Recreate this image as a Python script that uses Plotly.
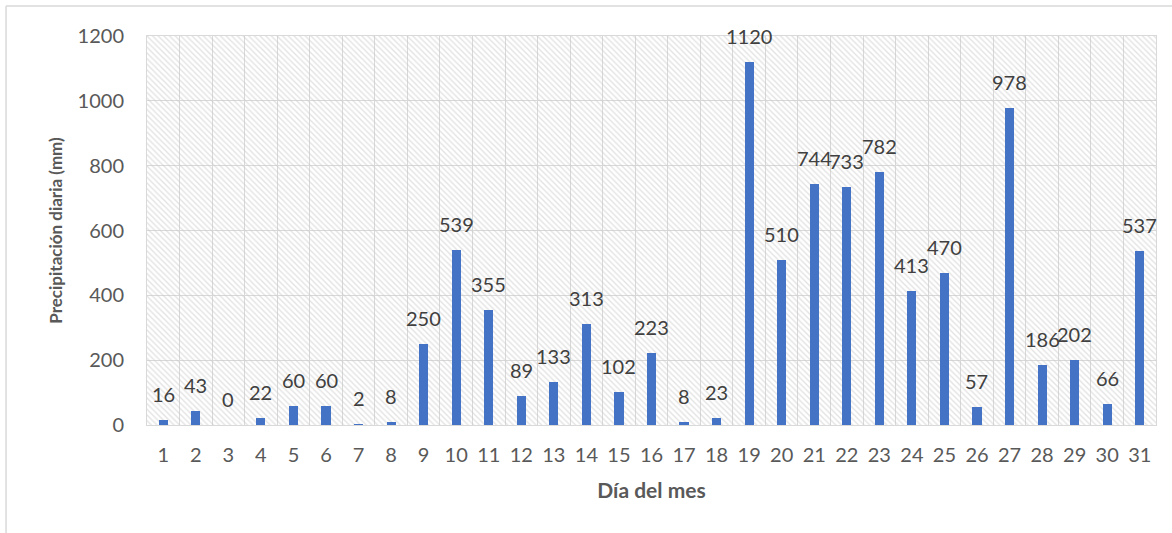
import plotly.graph_objects as go

days = [str(d) for d in range(1, 32)]
precip = [16, 43, 0, 22, 60, 60, 2, 8, 250, 539, 355, 89, 133, 313, 102, 223,
          8, 23, 1120, 510, 744, 733, 782, 413, 470, 57, 978, 186, 202, 66, 537]
y_max = 1200

FONT = "Lato"
TXT = "#595959"
GRID = "#d9d9d9"

fig = go.Figure()

# hatched plot-area background (single bar spanning all categories)
fig.add_trace(go.Bar(
    x=[days[15]], y=[y_max], width=[len(days)],
    marker=dict(color="rgba(0,0,0,0)", line=dict(width=0),
                pattern=dict(shape="\\", fgcolor="#c8c8c8", bgcolor="rgba(0,0,0,0)",
                             size=4, solidity=0.35)),
    hoverinfo="skip", showlegend=False,
))

fig.add_trace(go.Bar(
    x=days, y=precip, width=[0.28] * len(days),
    marker=dict(color="#4472c4", line=dict(width=0)),
    showlegend=False,
))

# data labels: category index positions on the category axis
annotations = [
    dict(x=i, y=v, xref="x", yref="y", text=str(v), showarrow=False,
         yanchor="middle", yshift=26,
         font=dict(family=FONT, size=20, color="#404040"))
    for i, v in enumerate(precip)
]

fig.update_layout(
    width=1172, height=533,
    margin=dict(l=147, r=16, t=36, b=108, autoexpand=False),
    paper_bgcolor="white", plot_bgcolor="white",
    barmode="overlay", bargap=0,
    font=dict(family=FONT, color=TXT, size=20),
    xaxis=dict(
        type="category", categoryorder="array", categoryarray=days,
        tickson="boundaries", showgrid=True, gridcolor=GRID, gridwidth=1,
        ticks="", showline=True, linecolor=GRID, linewidth=1, mirror=True,
        tickfont=dict(family=FONT, size=20, color=TXT),
        ticklabelstandoff=12, automargin=False,
        title=dict(text="<b>Día del mes</b>", font=dict(family=FONT, size=21, color=TXT),
                   standoff=18),
        range=[-0.5, 30.5],
    ),
    yaxis=dict(
        range=[0, y_max], dtick=200, showgrid=True, gridcolor=GRID, gridwidth=1,
        zeroline=False, ticks="", showline=True, linecolor=GRID, mirror=True,
        tickfont=dict(family=FONT, size=20, color=TXT),
        ticklabelstandoff=18, automargin=False,
        title=dict(text="<b>Precipitación diaria (mm)</b>",
                   font=dict(family=FONT, size=17, color=TXT), standoff=10),
    ),
    annotations=annotations,
    shapes=[
        dict(type="line", xref="paper", yref="paper", x0=-0.1397, x1=1.2, y0=1.0771, y1=1.0771,
             line=dict(color=GRID, width=1.5)),
        dict(type="line", xref="paper", yref="paper", x0=-0.1397, x1=-0.1397, y0=-0.5, y1=1.0771,
             line=dict(color=GRID, width=1.5)),
    ],
)

fig.write_html("out.html", config={"displayModeBar": False},
               post_script="document.body.style.margin='0px';")
